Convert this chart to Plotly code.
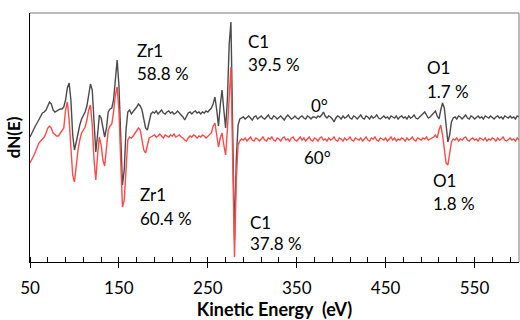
import numpy as np
import plotly.graph_objects as go

# Kinetic energy grid (eV), 2 eV steps
energy = np.arange(50, 601, 2)

# dN(E) at 0 deg (arbitrary units)
dn_0deg = [
    125, 129, 133, 136, 139, 142, 146, 149, 150, 152,   # 50-68
    156, 160, 158, 152, 150, 151, 152, 153, 153, 155,   # 70-88
    162, 174, 179, 162, 127, 112, 120, 130, 137, 143,   # 90-108
    146, 150, 156, 168, 178, 172, 137, 110, 127, 147,   # 110-128
    144, 132, 125, 134, 150, 153, 154, 162, 187, 202,   # 130-148
    177, 122, 77, 92, 132, 150, 152, 148, 150, 152,     # 150-168
    155, 158, 156, 152, 144, 134, 132, 142, 148, 150,   # 170-188
    149, 151, 148, 150, 152, 149, 148, 150, 151, 149,   # 190-208
    150, 148, 149, 151, 149, 148, 145, 142, 146, 149,   # 210-228
    150, 148, 150, 151, 149, 150, 148, 150, 149, 151,   # 230-248
    150, 152, 154, 158, 165, 152, 136, 157, 172, 152,   # 250-268
    134, 162, 217, 240, 122, 22, 102, 137, 143, 144,    # 270-288
    145, 143, 145, 146, 144, 142, 145, 146, 143, 145,   # 290-308
    146, 144, 143, 145, 147, 144, 143, 146, 145, 143,   # 310-328
    145, 146, 144, 142, 145, 147, 145, 143, 144, 146,   # 330-348
    144, 143, 145, 146, 144, 143, 146, 145, 143, 145,   # 350-368
    145, 144, 146, 145, 147, 150, 146, 144, 146, 145,   # 370-388
    143, 140, 144, 146, 145, 143, 146, 144, 145, 147,   # 390-408
    144, 143, 146, 145, 143, 145, 147, 144, 143, 146,   # 410-428
    145, 143, 146, 144, 145, 147, 144, 143, 145, 146,   # 430-448
    144, 145, 143, 146, 145, 144, 146, 143, 145, 146,   # 450-468
    144, 145, 143, 146, 144, 145, 147, 144, 143, 145,   # 470-488
    146, 148, 150, 147, 144, 145, 147, 150, 151, 146,   # 490-508
    143, 152, 159, 154, 134, 120, 127, 140, 144, 145,   # 510-528
    143, 146, 145, 143, 145, 147, 144, 143, 146, 145,   # 530-548
    143, 145, 146, 144, 145, 143, 146, 145, 144, 146,   # 550-568
    144, 143, 145, 146, 144, 145, 143, 146, 145, 144,   # 570-588
    146, 144, 145, 143, 146, 145,                       # 590-600
]

# dN(E) at 60 deg (arbitrary units)
dn_60deg = [
    99, 102, 106, 110, 114, 119, 121, 123, 125, 129,    # 50-68
    134, 136, 134, 129, 127, 126, 126, 129, 131, 134,   # 70-88
    152, 160, 142, 112, 87, 80, 97, 112, 122, 129,      # 90-108
    132, 135, 142, 152, 157, 137, 102, 82, 107, 125,    # 110-128
    117, 102, 96, 112, 132, 136, 138, 150, 167, 175,    # 130-148
    152, 102, 55, 62, 97, 122, 125, 124, 126, 129,      # 150-168
    132, 134, 132, 122, 112, 109, 117, 124, 125, 126,   # 170-188
    127, 125, 126, 128, 126, 124, 127, 126, 125, 127,   # 190-208
    126, 128, 125, 126, 127, 125, 124, 122, 121, 124,   # 210-228
    126, 125, 127, 126, 124, 126, 125, 127, 126, 124,   # 230-248
    126, 127, 129, 136, 139, 127, 115, 124, 129, 117,   # 250-268
    107, 132, 172, 195, 102, 5, 82, 117, 121, 123,      # 270-288
    122, 124, 121, 123, 125, 122, 121, 124, 123, 121,   # 290-308
    123, 125, 122, 121, 124, 123, 125, 122, 121, 124,   # 310-328
    123, 121, 124, 125, 122, 123, 121, 124, 125, 122,   # 330-348
    121, 123, 125, 122, 124, 121, 123, 125, 122, 121,   # 350-368
    124, 123, 121, 124, 125, 122, 123, 121, 124, 122,   # 370-388
    123, 125, 122, 121, 124, 123, 121, 124, 122, 123,   # 390-408
    125, 122, 121, 124, 123, 122, 124, 121, 123, 125,   # 410-428
    122, 121, 124, 123, 125, 122, 121, 124, 123, 122,   # 430-448
    124, 121, 123, 125, 122, 124, 121, 123, 122, 124,   # 450-468
    123, 121, 124, 122, 123, 125, 122, 121, 124, 123,   # 470-488
    122, 124, 123, 125, 122, 123, 124, 125, 127, 124,   # 490-508
    132, 137, 127, 110, 99, 97, 107, 120, 123, 122,     # 510-528
    124, 121, 123, 122, 124, 125, 122, 121, 123, 124,   # 530-548
    122, 123, 121, 124, 123, 122, 124, 121, 123, 122,   # 550-568
    124, 123, 121, 124, 122, 123, 125, 122, 121, 123,   # 570-588
    124, 122, 123, 121, 124, 122,                       # 590-600
]

assert len(dn_0deg) == len(energy), len(dn_0deg)
assert len(dn_60deg) == len(energy), len(dn_60deg)

tick_vals = [50, 150, 250, 350, 450, 550]

# Labels: (text, x in eV, y in a.u., anchor)
labels = [
    ("Zr1", 168.5, 212, "left"),
    ("58.8 %", 168.5, 189, "left"),
    ("C1", 293.5, 221, "left"),
    ("39.5 %", 293.5, 198, "left"),
    ("O1", 494.5, 194.5, "left"),
    ("1.7 %", 494.5, 171, "left"),
    ("0°", 376, 157, "center"),
    ("60°", 373, 104.5, "center"),
    ("Zr1", 171.5, 68, "left"),
    ("60.4 %", 171.5, 43.5, "left"),
    ("C1", 295, 39.5, "left"),
    ("37.8 %", 295, 18.5, "left"),
    ("O1", 501, 82, "left"),
    ("1.8 %", 501, 58.5, "left"),
]

FONT = "Lato"

fig = go.Figure()
fig.add_trace(go.Scatter(x=energy, y=dn_0deg, mode="lines",
                         line=dict(color="#4a4a4a", width=1.4), name="0°"))
fig.add_trace(go.Scatter(x=energy, y=dn_60deg, mode="lines",
                         line=dict(color="#ff4a4a", width=1.4), name="60°"))

for text, xv, yv, anc in labels:
    fig.add_annotation(x=xv, y=yv, xref="x", yref="y", text=text,
                       showarrow=False, xanchor=anc, yanchor="middle",
                       font=dict(family=FONT, size=17, color="black"))

fig.update_layout(
    width=520, height=320,
    margin=dict(l=30, r=1, t=13, b=58, autoexpand=False),
    paper_bgcolor="white", plot_bgcolor="white",
    showlegend=False,
    xaxis=dict(
        range=[50, 600], tickvals=tick_vals, automargin=False,
        ticks="outside", ticklen=5, tickwidth=1.2, tickcolor="black",
        ticklabelstandoff=5,
        minor=dict(dtick=20, tick0=50, ticks="inside", ticklen=5,
                   tickwidth=1, tickcolor="black", showgrid=False),
        showline=True, linecolor="black", linewidth=1.3,
        showgrid=False, zeroline=False,
        tickfont=dict(family=FONT, size=17, color="black"),
        title=dict(text="<b>Kinetic Energy  (eV)</b>",
                   font=dict(family=FONT, size=18, color="black"),
                   standoff=10),
    ),
    xaxis2=dict(
        overlaying="x", matches="x", range=[50, 600], tickvals=tick_vals,
        ticks="inside", ticklen=5, tickwidth=1.2, tickcolor="black",
        showticklabels=False, showgrid=False, zeroline=False,
        showline=False, side="bottom", automargin=False,
    ),
    yaxis=dict(
        range=[0, 249], showticklabels=False, ticks="", automargin=False,
        showline=True, linecolor="black", linewidth=1.3,
        showgrid=False, zeroline=False,
        title=dict(text="<b>dN(E)</b>",
                   font=dict(family=FONT, size=17, color="black"),
                   standoff=3),
    ),
    shapes=[
        dict(type="line", xref="paper", yref="paper", x0=0, x1=1, y0=1, y1=1,
             line=dict(color="#7a7a7a", width=1)),
        dict(type="line", xref="paper", yref="paper", x0=1, x1=1, y0=0, y1=1,
             line=dict(color="#7a7a7a", width=1)),
    ],
)

# invisible trace to activate overlay axis ticks
fig.add_trace(go.Scatter(x=[50], y=[None], xaxis="x2", yaxis="y",
                         mode="lines", showlegend=False, hoverinfo="skip"))

fig.write_html("out.html", config={"displayModeBar": False},
               post_script="document.body.style.margin='0px';document.body.style.overflow='hidden';")
